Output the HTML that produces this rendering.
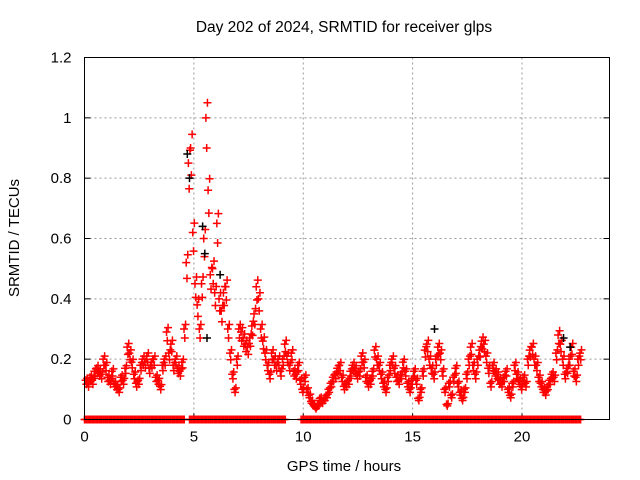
<!DOCTYPE html>
<html><head><meta charset="utf-8"><style>
body{margin:0;background:#fff;}
svg{display:block;font-family:"Liberation Sans",sans-serif;}
</style></head><body>
<svg id="chart" width="640" height="480">
<text x="344" y="32" font-size="15.5" text-anchor="middle">Day 202 of 2024, SRMTID for receiver glps</text>
<text x="344" y="471" font-size="15" text-anchor="middle">GPS time / hours</text>
<text transform="translate(19,238) rotate(-90)" font-size="15" text-anchor="middle">SRMTID / TECUs</text>
<g id="grid"></g><g id="ticks"></g><g id="marks"></g>
<rect x="84.5" y="57.5" width="525" height="362" fill="none" stroke="#000" stroke-width="1"/>
</svg>
<script>
const xTicks=[0,5,10,15,20];
const yTicks=[0,0.2,0.4,0.6,0.8,1,1.2];
const yTickLabels=["0","0.2","0.4","0.6","0.8","1","1.2"];
const startHour=0.05, stepHour=0.1;
const redValues=[0.13,0.12,0.14,0.13,0.16,0.17,0.16,0.15,0.2,0.18,0.14,0.13,0.16,0.12,0.11,0.1,0.14,0.13,0.17,0.24,0.22,0.19,0.15,0.12,0.13,0.18,0.2,0.19,0.21,0.17,0.19,0.2,0.14,0.13,0.11,0.18,0.2,0.29,0.22,0.25,0.18,0.2,0.17,0.16,0.19,0.3,0.52,0.85,0.9,0.62,0.45,0.38,0.3,0.45,0.6,1.0,0.76,0.48,0.5,0.42,0.65,0.4,0.36,0.42,0.44,0.3,0.22,0.15,0.1,0.2,0.3,0.29,0.27,0.25,0.24,0.27,0.31,0.35,0.44,0.4,0.3,0.26,0.22,0.18,0.15,0.22,0.2,0.18,0.2,0.16,0.2,0.25,0.21,0.18,0.22,0.16,0.15,0.18,0.13,0.1,0.14,0.1,0.08,0.06,0.05,0.04,0.05,0.07,0.06,0.07,0.08,0.1,0.12,0.14,0.15,0.17,0.18,0.14,0.11,0.12,0.13,0.16,0.18,0.17,0.15,0.16,0.21,0.19,0.14,0.12,0.13,0.16,0.23,0.2,0.18,0.15,0.12,0.1,0.14,0.18,0.2,0.17,0.14,0.13,0.15,0.19,0.16,0.12,0.1,0.13,0.16,0.13,0.07,0.1,0.16,0.23,0.25,0.2,0.17,0.15,0.2,0.24,0.22,0.16,0.1,0.05,0.12,0.08,0.14,0.17,0.12,0.09,0.07,0.1,0.15,0.2,0.24,0.18,0.15,0.2,0.23,0.26,0.25,0.21,0.17,0.12,0.18,0.16,0.15,0.13,0.12,0.14,0.16,0.1,0.08,0.12,0.18,0.15,0.13,0.11,0.14,0.12,0.2,0.23,0.24,0.2,0.18,0.14,0.12,0.1,0.09,0.11,0.13,0.15,0.14,0.22,0.28,0.25,0.2,0.15,0.17,0.2,0.24,0.16,0.14,0.2,0.22];
const blackTimes=[4.7,4.8,5.4,5.5,5.6,6.2,16.0,21.9,22.2];
const blackValues=[0.88,0.8,0.64,0.55,0.27,0.48,0.3,0.27,0.24];
const zeroRanges=[[0,4.6],[4.8,9.2],[9.9,22.7]];

const NS="http://www.w3.org/2000/svg";
const X0=84.5,X1=609.5,Y0=419.5,Y1=57.5;
const xs=h=>X0+h/24*(X1-X0);
const ys=v=>Y0-v/1.2*(Y0-Y1);
const grid=document.getElementById('grid'),ticks=document.getElementById('ticks'),marks=document.getElementById('marks');
function mk(tag,attrs,parent){const e=document.createElementNS(NS,tag);for(const k in attrs)e.setAttribute(k,attrs[k]);parent.appendChild(e);return e;}
xTicks.forEach(t=>{const x=xs(t);
 if(t>0){const g=mk('line',{x1:x,x2:x,y1:Y1,y2:Y0,stroke:'#999','stroke-dasharray':'2,3'},grid);
 
 }
 mk('line',{x1:x,x2:x,y1:Y0,y2:Y0-6,stroke:'#000'},ticks);
 const l=mk('text',{x:x,y:Y0+22,'font-size':15,'text-anchor':'middle'},ticks);l.textContent=t;
 
 });
yTicks.forEach((t,i)=>{const y=ys(t);
 if(t>0&&t<1.2){const g=mk('line',{x1:X0,x2:X1,y1:y,y2:y,stroke:'#999','stroke-dasharray':'2,3'},grid);
 
 }
 mk('line',{x1:X0,x2:X0+6,y1:y,y2:y,stroke:'#000'},ticks);
 mk('line',{x1:X1,x2:X1-6,y1:y,y2:y,stroke:'#000'},ticks);
 const l=mk('text',{x:X0-13,y:y+5,'font-size':15,'text-anchor':'end'},ticks);l.textContent=yTickLabels[i];
 
 });
function plus(x,y,c,name){const p=mk('path',{d:`M${x-4},${y}h8M${x},${y-4}v8`,stroke:c,'stroke-width':1.5,fill:'none'},marks);
 
 }
zeroRanges.forEach(r=>{for(let h=r[0];h<=r[1];h+=0.06)plus(xs(h),Y0,'#f00','zero-point');});
redValues.forEach((v,i)=>{const h=startHour+i*stepHour;
 plus(xs(h),ys(v),'#f00','srmtid-point');
 plus(xs(h+0.035),ys(v*0.9),'#f00','srmtid-point');
 plus(xs(h+0.07),ys(v*1.05),'#f00','srmtid-point');});
blackTimes.forEach((h,i)=>plus(xs(h),ys(blackValues[i]),'#000','srmtid-black-point'));
</script>
</body></html>
